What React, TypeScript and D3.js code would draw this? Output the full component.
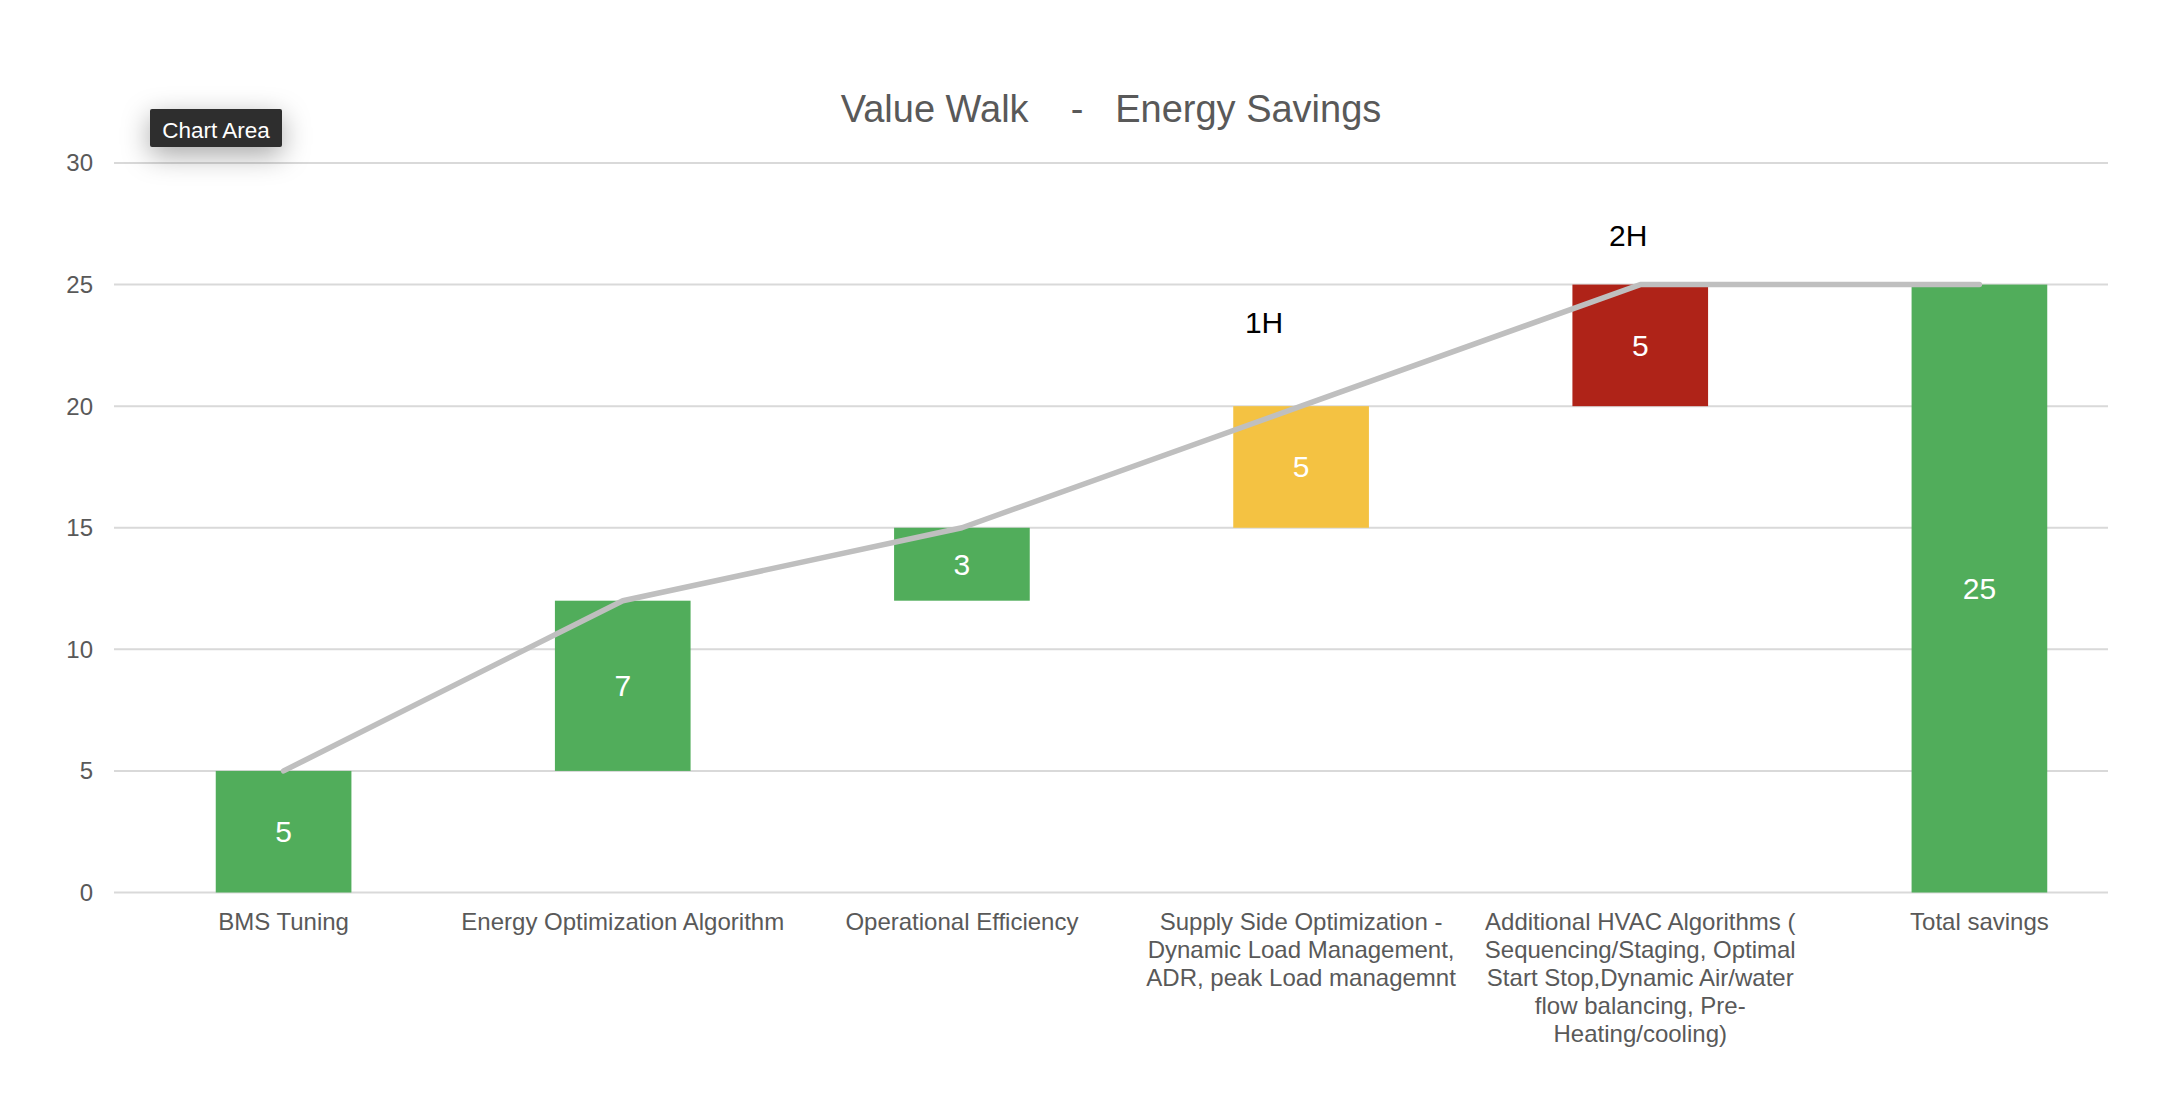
import * as d3 from 'd3';

// chart data
const categories = [
  'BMS Tuning',
  'Energy Optimization Algorithm',
  'Operational Efficiency',
  'Supply Side Optimization -\nDynamic Load Management,\nADR, peak Load managemnt',
  'Additional HVAC Algorithms (\nSequencing/Staging, Optimal\nStart Stop,Dynamic Air/water\nflow balancing, Pre-\nHeating/cooling)',
  'Total savings',
];
const barBase = [0, 5, 12, 15, 20, 0];
const barValues = [5, 7, 3, 5, 5, 25];
const barColors = ['#51AD5B', '#51AD5B', '#51AD5B', '#F4C242', '#AF2318', '#51AD5B'];
const walkLine = [5, 12, 15, 20, 25, 25];
const yTicks = [0, 5, 10, 15, 20, 25, 30];

const phaseLabels = ['1H', '2H'];
const phaseCats = [3, 4];
const phaseValues = [23, 26.6];

const W = 2174;
const H = 1108;
const FONT = '"Liberation Sans", Arial, Helvetica, sans-serif';
const GREY = '#595959';

export default function App() {
  const plotLeft = 114;
  const plotRight = 2108;

  const x = d3.scaleBand<string>()
    .domain(categories)
    .range([plotLeft, 2149])
    .paddingInner(0.6)
    .paddingOuter(0.3);

  const y = d3.scaleLinear().domain([0, 30]).range([892.5, 163]);

  const cx = (i: number) => (x(categories[i]) ?? 0) + x.bandwidth() / 2;

  const line = d3.line<number>()
    .x((_, i) => cx(i))
    .y(d => y(d));

  return (
    <svg
      width={W}
      height={H}
      style={{ position: 'absolute', left: 0, top: 0, background: '#fff' }}
      fontFamily={FONT}
    >
      <defs>
        <filter id="tipShadow" x="-60%" y="-150%" width="220%" height="400%">
          <feDropShadow dx="0" dy="8" stdDeviation="14" floodColor="#000" floodOpacity="0.35" />
        </filter>
      </defs>

      {/* title */}
      <text
        x={(plotLeft + plotRight) / 2}
        y={122}
        textAnchor="middle"
        fontSize={38}
        fill={GREY}
        style={{ whiteSpace: 'pre' }}
      >
        {'Value Walk    -   Energy Savings'}
      </text>

      {/* gridlines + y ticks */}
      {yTicks.map(t => (
        <g key={t}>
          <line x1={plotLeft} x2={plotRight} y1={y(t)} y2={y(t)} stroke="#D9D9D9" strokeWidth={2} />
          <text x={93} y={y(t)} dy="0.35em" textAnchor="end" fontSize={24} fill={GREY}>
            {t}
          </text>
        </g>
      ))}

      {/* waterfall bars */}
      {categories.map((c, i) => (
        <rect
          key={c}
          x={x(c)}
          width={x.bandwidth()}
          y={y(barBase[i] + barValues[i])}
          height={y(barBase[i]) - y(barBase[i] + barValues[i])}
          fill={barColors[i]}
        />
      ))}

      {/* walk line */}
      <path
        d={line(walkLine) ?? ''}
        fill="none"
        stroke="#BFBFBF"
        strokeWidth={5.5}
        strokeLinecap="round"
        strokeLinejoin="round"
      />

      {/* bar value labels */}
      {categories.map((c, i) => (
        <text
          key={c}
          x={cx(i)}
          y={y(barBase[i] + barValues[i] / 2)}
          dy="0.35em"
          textAnchor="middle"
          fontSize={30}
          fill="#fff"
        >
          {barValues[i]}
        </text>
      ))}

      {/* phase annotations */}
      {phaseLabels.map((p, i) => (
        <text
          key={p}
          x={cx(phaseCats[i]) + (i === 0 ? -37 : -12)}
          y={y(phaseValues[i])}
          textAnchor="middle"
          fontSize={30}
          fill="#000"
        >
          {p}
        </text>
      ))}

      {/* category labels */}
      {categories.map((c, i) => (
        <text key={c} x={cx(i)} y={930} textAnchor="middle" fontSize={24} fill={GREY}>
          {c.split('\n').map((ln, j) => (
            <tspan key={j} x={cx(i)} dy={j === 0 ? 0 : 28}>
              {ln}
            </tspan>
          ))}
        </text>
      ))}

      {/* Chart Area tooltip */}
      <g filter="url(#tipShadow)">
        <rect x={150} y={109} width={132} height={38} rx={2} fill="#2E2E2E" />
      </g>
      <text x={216} y={137.5} textAnchor="middle" fontSize={22.5} fill="#fff">
        Chart Area
      </text>
    </svg>
  );
}
